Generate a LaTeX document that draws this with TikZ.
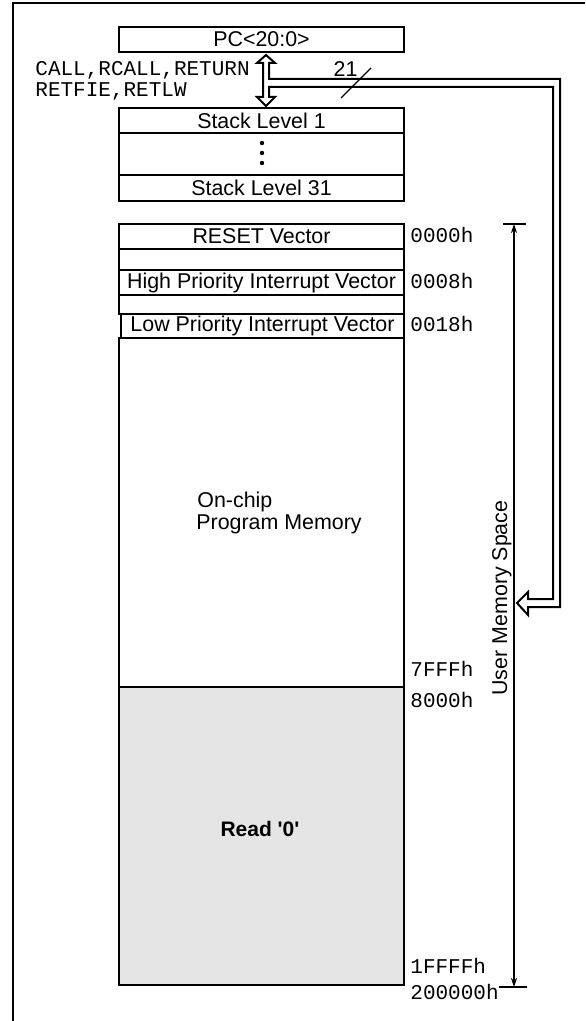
\documentclass[tikz,border=0pt]{standalone}
\usepackage{fontspec}
\setmainfont{Liberation Sans}
\setmonofont{Liberation Mono}
\usetikzlibrary{arrows.meta}
\definecolor{shadegray}{HTML}{E5E5E5}

\begin{document}
\begin{tikzpicture}[x=0.5pt, y=-0.5pt,
    every node/.style={inner sep=0pt, font=\fontsize{10.7}{10.7}\selectfont},
    membox/.style={draw, line width=1.1pt, minimum width=142.5pt},
    addr/.style={anchor=base west, font=\fontsize{10.5}{10.5}\ttfamily},
    umsarrow/.style={line width=1pt, {Stealth[length=4.5pt,width=3pt]}-{Stealth[length=4.5pt,width=3pt]}}]

    \def \xc {261.5} % centre line of all boxes
    \useasboundingbox (0,0) rectangle (585,1021);

    % frame
    \draw[line width=1pt] (13,1021) -- (13,3) -- (585,3);

    % program counter and return stack
    \node[membox, minimum height=12.5pt] (pc) at (\xc,39.5) {PC<20:0>};
    \node[membox, minimum height=12.5pt] (stk1) at (\xc,120.5) {Stack Level 1};
    \node[membox, minimum height=21pt] (stkdots) at (\xc,154) {};
    \node[membox, minimum height=13pt] (stk31) at (\xc,188) {Stack Level 31};
    \foreach \y in {143,153,163}
      \fill (262,\y) circle (1.1pt);

    % hollow bus: PC <-> stack, and on to program memory
    \draw[fill=white, line width=1pt, line join=miter]
      (263,63) -- (257,63) -- (266,55) -- (275,63) -- (269,63) -- (269,79)
      -- (560,79) -- (560,607) -- (528,607) -- (528,615) -- (517,603)
      -- (528,592) -- (528,599) -- (553,599) -- (553,87) -- (269,87)
      -- (269,97) -- (275,97) -- (266,106) -- (257,97) -- (263,97) -- cycle;
    \node[anchor=base west, font=\fontsize{10.5}{10.5}\ttfamily] (ops1) at (35,76) {CALL,RCALL,RETURN};
    \node[anchor=base west, font=\fontsize{10.5}{10.5}\ttfamily] (ops2) at (35,97) {RETFIE,RETLW};
    \node[anchor=base] (buswidth) at (345.5,77) {21};
    \draw[line width=0.6pt] (341,98) -- (371,68);

    % program memory
    \node[membox, minimum height=12.5pt] (reset) at (\xc,236.5) {RESET Vector};
    \node[membox, minimum height=10.5pt] (gap1) at (\xc,259.5) {};
    \node[membox, minimum height=12.5pt] (hivec) at (\xc,282.5) {High Priority Interrupt Vector};
    \node[membox, minimum height=9.5pt] (gap2) at (\xc,304.5) {};
    \node[membox, minimum width=141.5pt, minimum height=12pt] (lovec) at (262.5,326) {Low Priority Interrupt Vector};
    \node[membox, minimum height=174.5pt] (onchip) at (\xc,512.5) {};
    \node[membox, fill=shadegray, minimum height=149pt] (unimpl) at (\xc,836) {};
    \node[anchor=base west] (onchip1) at (197,507) {On-chip};
    \node[anchor=base west] (onchip2) at (196,529) {Program Memory};
    \node[anchor=base, font=\fontsize{10.5}{10.5}\bfseries] (readzero) at (260,836) {Read \textquotesingle0\textquotesingle};

    % addresses
    \foreach \a/\y in {0000h/243, 0008h/289, 0018h/331, 7FFFh/676, 8000h/707, 1FFFFh/973, 200000h/999}
      \node[addr] (adr-\a) at (410,\y) {\a};

    % user memory space
    \coordinate (umstop) at (514,224);
    \coordinate (umsbot) at (514,987);
    \draw[line width=1pt] (503,224) -- (526,224);
    \draw[line width=1pt] (499,987) -- (527,987);
    \draw[umsarrow] (umstop) -- (umsbot);
    \node[rotate=90, anchor=base] (umslabel) at (507,598) {User Memory Space};
\end{tikzpicture}
\end{document}
